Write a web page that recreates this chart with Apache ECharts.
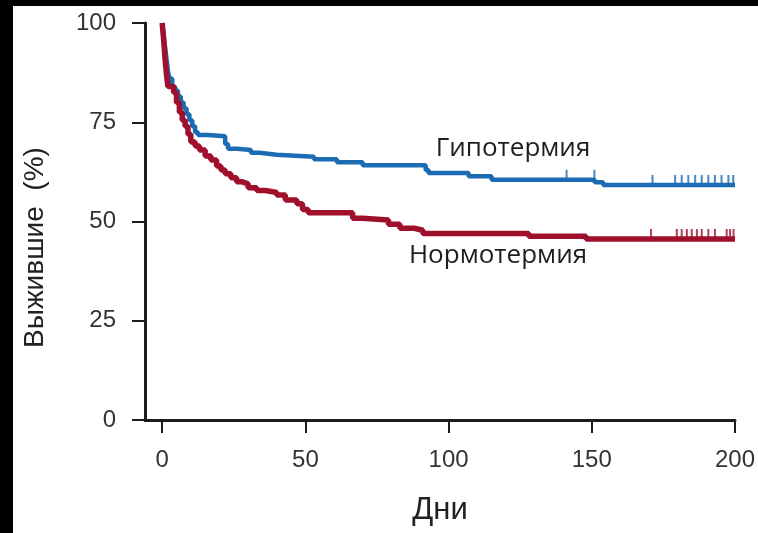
<!DOCTYPE html>
<html>
<head>
<meta charset="utf-8">
<script src="https://cdn.jsdelivr.net/npm/echarts@6/dist/echarts.min.js"></script>
<style>
  html, body { margin: 0; padding: 0; background: #000; width: 758px; height: 533px; overflow: hidden; }
  #chart { position: absolute; left: 13px; top: 6px; width: 745px; height: 527px; background: #fff; }
</style>
</head>
<body>
<div id="chart"></div>
<script>
// ---- Data ----
const xTickValues = [0, 50, 100, 150, 200];
const yTickValues = [0, 25, 50, 75, 100];

const hypoName = 'Гипотермия';
const hypoDays = [0, 0.5, 1, 1.5, 2, 2.5, 3.5, 4.5, 5.5, 6.5, 7.5, 8.5, 9.5, 10.5, 11.5, 12.5, 16, 22, 23, 26, 31, 34, 40, 53, 61, 70, 92, 93, 107, 115, 151, 154, 200];
const hypoSurv = [100, 97, 94, 91, 88, 86, 84, 83, 81.5, 80, 78.5, 77, 75.5, 74, 72.5, 71.8, 71.5, 69.5, 68.3, 68, 67.3, 66.8, 66.3, 65.7, 64.9, 64.2, 63.0, 62.2, 61.4, 60.5, 59.9, 59.2, 59.2];
const hypoCensored = [141.2, 150.9, 171.2, 179.1, 181.4, 183.7, 186.1, 188.4, 190.7, 193, 195.3, 197.7, 199.4];

const normoName = 'Нормотермия';
const normoDays = [0, 0.5, 1, 1.5, 2, 4, 5, 6, 7, 8, 9, 10, 11.5, 13, 15, 17, 19, 20.5, 22, 24, 26, 28, 30, 33, 36, 40, 43, 47, 49, 51, 66.5, 70, 79, 83, 88, 91, 128, 148, 200];
const normoSurv = [100, 96, 91, 87, 84, 82.5, 80, 77.5, 75.5, 74, 72, 70, 69, 68, 66.5, 65.5, 64, 63, 62, 61, 60, 59.5, 58.5, 57.8, 57.3, 56.7, 55.4, 54.5, 53, 52.2, 50.8, 50.4, 49.3, 48.3, 47.8, 47.0, 46.3, 45.6, 45.6];
const normoCensored = [170.7, 179.7, 181.4, 183.2, 184.9, 186.7, 188.4, 190.7, 193, 197.1, 198.3, 199.5];

const xAxisName = 'Дни';
const yAxisName = 'Выжившие  (%)';

// ---- Helpers ----
function pairs(xs, ys) { return xs.map((x, i) => [x, ys[i]]); }
function survAt(days, surv, t) {
  let v = surv[0];
  for (let i = 0; i < days.length; i++) { if (days[i] <= t) v = surv[i]; }
  return v;
}
function censorPoints(days, surv, cens) { return cens.map(t => [t, survAt(days, surv, t)]); }

const blue = '#1b6cb3';
const red = '#a00f2b';
const axisColor = '#1c1c1c';
const labelColor = '#333333';

const chart = echarts.init(document.getElementById('chart'));
chart.setOption({
  animation: false,
  backgroundColor: '#ffffff',
  grid: { left: 132, right: 21, top: 17, bottom: 113 },
  xAxis: {
    type: 'value',
    min: -6, max: 200,
    name: xAxisName,
    nameLocation: 'middle',
    nameGap: 75,
    nameTextStyle: { fontFamily: 'Liberation Sans', fontSize: 31, color: '#222' },
    axisLine: { show: true, onZero: false, lineStyle: { color: axisColor, width: 3 } },
    axisTick: { show: true, inside: false, length: 13, customValues: xTickValues, lineStyle: { color: axisColor, width: 2 } },
    axisLabel: { customValues: xTickValues, margin: 28, fontFamily: 'Liberation Sans', fontSize: 24, color: labelColor },
    splitLine: { show: false }
  },
  yAxis: {
    type: 'value',
    min: 0, max: 100, interval: 25,
    name: yAxisName,
    nameLocation: 'middle',
    nameGap: 96,
    nameTextStyle: { fontFamily: 'Liberation Sans', fontSize: 28, color: '#222', padding: [0, 52, 0, 0] },
    axisLine: { show: true, onZero: false, lineStyle: { color: axisColor, width: 3 } },
    axisTick: { show: true, inside: false, length: 13, lineStyle: { color: axisColor, width: 2 } },
    axisLabel: { margin: 29, fontFamily: 'Liberation Sans', fontSize: 24, color: labelColor,
      formatter: v => (yTickValues.indexOf(v) >= 0 ? String(v) : '') },
    splitLine: { show: false }
  },
  graphic: [
    { type: 'text', x: 500, y: 143, style: { text: hypoName, font: '26px "Open Sans"', fill: '#1e1e1e', textAlign: 'center', textVerticalAlign: 'middle' } },
    { type: 'text', x: 485, y: 250, style: { text: normoName, font: '26px "Open Sans"', fill: '#1e1e1e', textAlign: 'center', textVerticalAlign: 'middle' } }
  ],
  series: [
    { name: hypoName, type: 'line', step: 'end', showSymbol: false, data: pairs(hypoDays, hypoSurv),
      lineStyle: { color: blue, width: 4.5 }, itemStyle: { color: blue }, z: 3 },
    { name: hypoName + ' cens', type: 'scatter', data: censorPoints(hypoDays, hypoSurv, hypoCensored),
      symbol: 'rect', symbolSize: [2, 12], symbolOffset: [0, -4], itemStyle: { color: blue }, z: 3 },
    { name: normoName, type: 'line', step: 'end', showSymbol: false, data: pairs(normoDays, normoSurv),
      lineStyle: { color: red, width: 5.5 }, itemStyle: { color: red }, z: 4 },
    { name: normoName + ' cens', type: 'scatter', data: censorPoints(normoDays, normoSurv, normoCensored),
      symbol: 'rect', symbolSize: [2, 12], symbolOffset: [0, -4], itemStyle: { color: red }, z: 4 }
  ]
});
</script>
</body>
</html>
